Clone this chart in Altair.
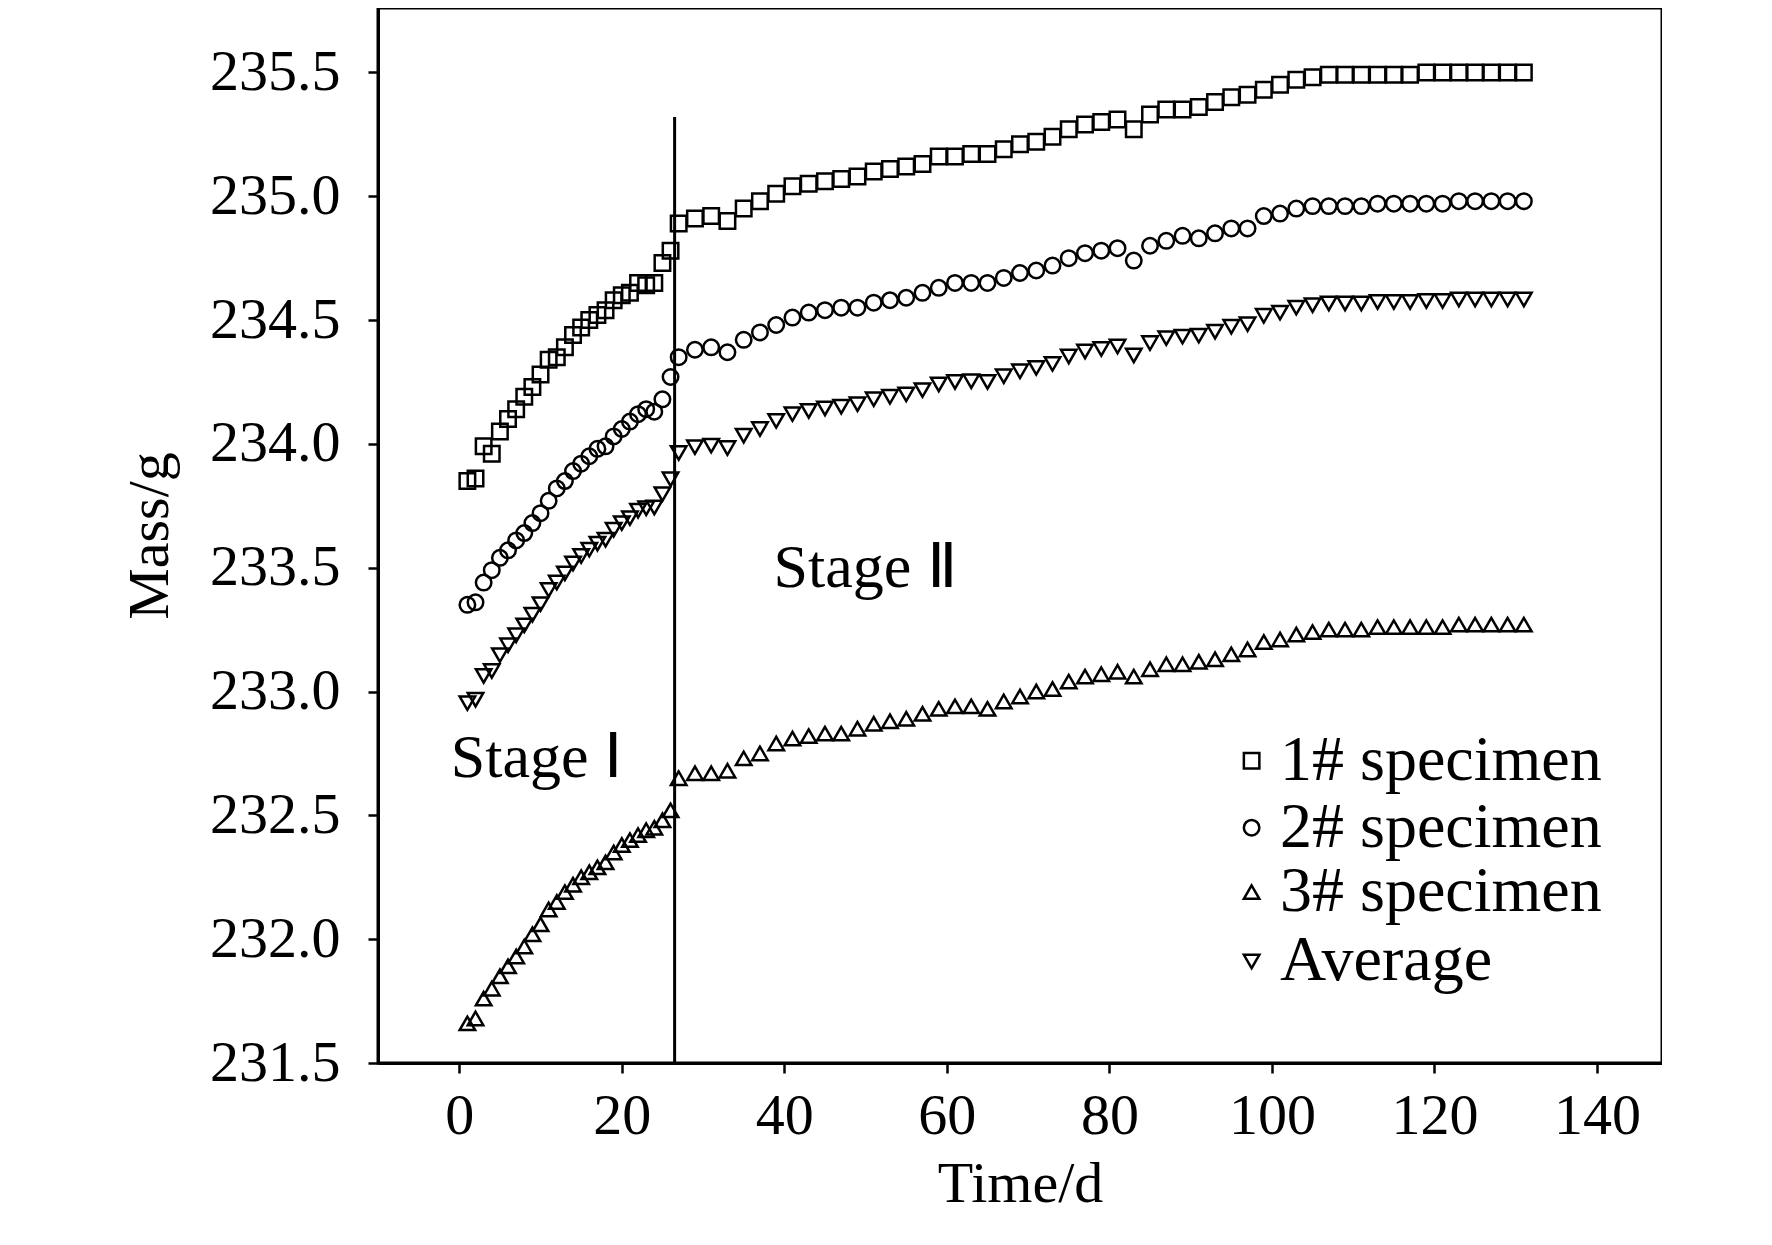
import altair as alt
import pandas as pd

days_early = list(range(1, 28))
days_late = list(range(29, 132, 2))
days = days_early + days_late

s1 = [233.85, 233.86, 233.99, 233.96, 234.05, 234.10, 234.14, 234.19, 234.23, 234.28,
      234.34, 234.35, 234.39, 234.44, 234.47, 234.50, 234.52, 234.54, 234.58, 234.60,
      234.61, 234.65, 234.64, 234.65, 234.73, 234.78, 234.89,
      234.91, 234.92, 234.90, 234.95, 234.98, 235.01, 235.04, 235.05, 235.06, 235.07,
      235.08, 235.10, 235.11, 235.12, 235.13, 235.16, 235.16, 235.17, 235.17, 235.19,
      235.21, 235.22, 235.24, 235.27, 235.29, 235.30, 235.31, 235.27, 235.33, 235.35,
      235.35, 235.36, 235.38, 235.40, 235.41, 235.43, 235.45, 235.47, 235.48, 235.49,
      235.49, 235.49, 235.49, 235.49, 235.49, 235.50, 235.50, 235.50, 235.50, 235.50,
      235.50, 235.50]
s2 = [233.35, 233.36, 233.44, 233.49, 233.54, 233.57, 233.61, 233.64, 233.68, 233.72,
      233.77, 233.82, 233.85, 233.89, 233.92, 233.95, 233.98, 233.99, 234.03, 234.06,
      234.09, 234.12, 234.14, 234.13, 234.18, 234.27, 234.35,
      234.38, 234.39, 234.37, 234.42, 234.45, 234.48, 234.51, 234.53, 234.54, 234.55,
      234.55, 234.57, 234.58, 234.59, 234.61, 234.63, 234.65, 234.65, 234.65, 234.67,
      234.69, 234.70, 234.72, 234.75, 234.77, 234.78, 234.79, 234.74, 234.80, 234.82,
      234.84, 234.83, 234.85, 234.87, 234.87, 234.92, 234.93, 234.95, 234.96, 234.96,
      234.96, 234.96, 234.97, 234.97, 234.97, 234.97, 234.97, 234.98, 234.98, 234.98,
      234.98, 234.98]
s3 = [231.66, 231.68, 231.76, 231.80, 231.85, 231.89, 231.93, 231.97, 232.02, 232.06,
      232.12, 232.15, 232.19, 232.22, 232.25, 232.27, 232.29, 232.31, 232.35, 232.38,
      232.40, 232.42, 232.44, 232.45, 232.48, 232.52, 232.65,
      232.67, 232.67, 232.68, 232.73, 232.75, 232.79, 232.81, 232.82, 232.83, 232.83,
      232.85, 232.87, 232.88, 232.89, 232.91, 232.93, 232.94, 232.94, 232.93, 232.96,
      232.98, 233.00, 233.01, 233.04, 233.06, 233.07, 233.08, 233.06, 233.09, 233.11,
      233.11, 233.12, 233.13, 233.15, 233.17, 233.20, 233.21, 233.23, 233.24, 233.25,
      233.25, 233.25, 233.26, 233.26, 233.26, 233.26, 233.26, 233.27, 233.27, 233.27,
      233.27, 233.27]
avg = [round((a + b + c) / 3, 3) for a, b, c in zip(s1, s2, s3)]

names = ["1# specimen", "2# specimen", "3# specimen", "Average"]
shapes = ["square", "circle", "triangle-up", "triangle-down"]
legend_y = [232.72, 232.45, 232.19, 231.91]

rows = []
for name, vals in zip(names, [s1, s2, s3, avg]):
    for d, v in zip(days, vals):
        rows.append({"day": d, "mass": v, "series": name})
df = pd.DataFrame(rows)

FONT = "Liberation Serif"
xs = alt.Scale(domain=[-10, 148], nice=False, zero=False)
ys = alt.Scale(domain=[231.5, 235.76], nice=False, zero=False)

points = alt.Chart(df).mark_point(filled=False, strokeWidth=2.5, size=240, color="black", opacity=1).encode(
    x=alt.X("day:Q", scale=xs, title="Time/d",
            axis=alt.Axis(values=list(range(0, 141, 20)), grid=False)),
    y=alt.Y("mass:Q", scale=ys, title="Mass/g",
            axis=alt.Axis(values=[231.5 + 0.5 * i for i in range(9)], format=".1f", grid=False)),
    shape=alt.Shape("series:N", scale=alt.Scale(domain=names, range=shapes), legend=None),
)

vline = alt.Chart(pd.DataFrame({"x": [26.5], "y": [231.5], "y2": [235.32]})).mark_rule(
    color="black", strokeWidth=3).encode(x="x:Q", y="y:Q", y2="y2:Q")

stages = pd.DataFrame({"x": [9.5, 50], "y": [232.73, 233.5], "t": ["Stage Ⅰ", "Stage Ⅱ"]})
stage_text = alt.Chart(stages).mark_text(font=FONT, fontSize=62, color="black").encode(
    x="x:Q", y="y:Q", text="t:N")

leg = pd.DataFrame({"x": [97.5] * 4, "tx": [101] * 4, "y": legend_y, "series": names})
leg_pts = alt.Chart(leg).mark_point(filled=False, strokeWidth=2.5, size=240, color="black", opacity=1).encode(
    x="x:Q", y="y:Q",
    shape=alt.Shape("series:N", scale=alt.Scale(domain=names, range=shapes), legend=None))
leg_txt = alt.Chart(leg).mark_text(font=FONT, fontSize=64, align="left", color="black").encode(
    x="tx:Q", y="y:Q", text="series:N")

chart = alt.layer(points, vline, stage_text, leg_pts, leg_txt).properties(
    width=1284, height=1055,
    autosize=alt.AutoSizeParams(type="none"),
    padding={"left": 370, "top": 0, "right": 0, "bottom": 180},
).configure_view(stroke="black", strokeWidth=3).configure_axis(
    labelFont=FONT, titleFont=FONT, labelFontSize=58, titleFontSize=58,
    labelColor="black", titleColor="black", titleFontWeight="normal",
    domainColor="black", domainWidth=3, tickColor="black", tickWidth=2.5, tickSize=10,
).configure_axisY(titlePadding=30, labelPadding=28).configure_axisX(titlePadding=10, labelPadding=14)

chart.save("out.html", embed_options={"renderer": "svg", "actions": False})
